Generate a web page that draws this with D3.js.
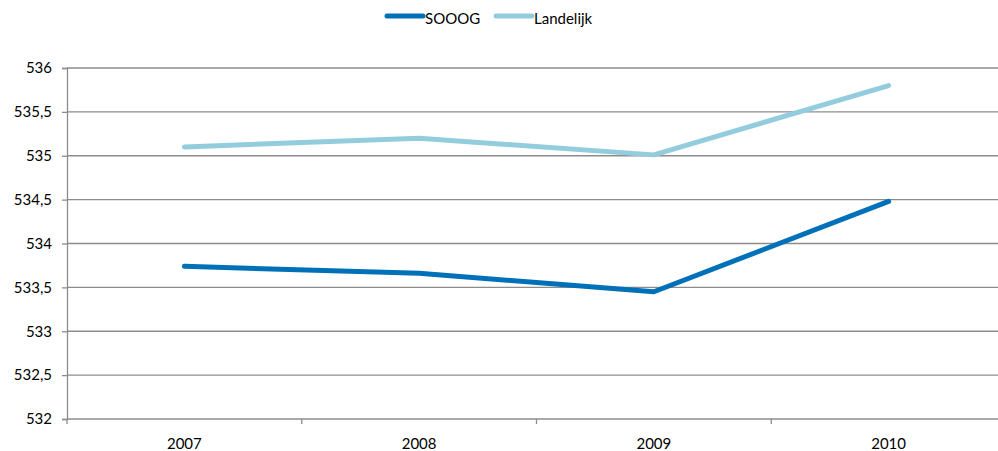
<!DOCTYPE html>
<html>
<head>
<meta charset="utf-8">
<script src="https://cdn.jsdelivr.net/npm/d3@7"></script>
<style>
  html, body { margin: 0; padding: 0; background: #fff; overflow: hidden; }
  svg { display: block; }
  text { font-family: Lato, "Open Sans", sans-serif; fill: #000; }
</style>
</head>
<body>
<div id="chart"></div>
<script>
const years = ["2007", "2008", "2009", "2010"];
const sooogValues = [533.74, 533.66, 533.45, 534.48];
const landelijkValues = [535.1, 535.2, 535.01, 535.8];
const yTicks = [532, 532.5, 533, 533.5, 534, 534.5, 535, 535.5, 536];
const seriesNames = ["SOOOG", "Landelijk"];
const seriesColors = ["#0070b9", "#93cddd"];

const series = [
  { name: seriesNames[0], values: sooogValues, color: seriesColors[0] },
  { name: seriesNames[1], values: landelijkValues, color: seriesColors[1] }
];

const W = 998, H = 451;
const plot = { left: 67, right: 1006, top: 68, bottom: 419 };
const fontSize = 15;

const svg = d3.select("#chart").append("svg")
  .attr("width", W).attr("height", H);

const x = d3.scaleBand().domain(years).range([plot.left, plot.right]);
const y = d3.scaleLinear().domain([532, 536]).range([plot.bottom, plot.top]);

const fmt = v => String(v).replace(".", ",");
const gridColor = "#8c8c8c";

// horizontal gridlines
svg.append("g").selectAll("line").data(yTicks.slice(1)).join("line")
  .attr("x1", plot.left).attr("x2", plot.right)
  .attr("y1", d => y(d)).attr("y2", d => y(d))
  .attr("stroke", gridColor).attr("stroke-width", 1.3);

// y axis
const yAxis = svg.append("g").attr("transform", `translate(${plot.left},0)`)
  .call(d3.axisLeft(y).tickValues(yTicks).tickFormat(fmt).tickSize(5).tickPadding(10));
yAxis.select(".domain").attr("stroke", gridColor).attr("stroke-width", 1.3);
yAxis.selectAll(".tick line").attr("stroke", gridColor).attr("stroke-width", 1.3);
yAxis.selectAll("text").attr("font-size", fontSize).attr("font-family", "Lato, 'Open Sans', sans-serif").attr("fill", "#000");

// x axis with ticks between categories
const xAxis = svg.append("g").attr("transform", `translate(0,${plot.bottom})`);
xAxis.append("line").attr("x1", plot.left).attr("x2", plot.right)
  .attr("stroke", gridColor).attr("stroke-width", 1.3);
const boundaries = years.map(d => x(d)).concat([x(years[years.length - 1]) + x.bandwidth()]);
xAxis.selectAll(".xt").data(boundaries).join("line").attr("class", "xt")
  .attr("x1", d => d).attr("x2", d => d).attr("y1", 0).attr("y2", 5)
  .attr("stroke", gridColor).attr("stroke-width", 1.3);
xAxis.selectAll(".xl").data(years).join("text").attr("class", "xl")
  .attr("x", d => x(d) + x.bandwidth() / 2).attr("y", 30)
  .attr("text-anchor", "middle").attr("font-size", fontSize).text(d => d);

// lines
const line = d3.line()
  .x((d, i) => x(years[i]) + x.bandwidth() / 2)
  .y(d => y(d));

svg.append("g").selectAll("path").data(series).join("path")
  .attr("d", d => line(d.values))
  .attr("fill", "none")
  .attr("stroke", d => d.color)
  .attr("stroke-width", 5)
  .attr("stroke-linejoin", "round")
  .attr("stroke-linecap", "round");

// legend
const legendPos = [387, 496];
const legend = svg.append("g").selectAll("g").data(series).join("g")
  .attr("transform", (d, i) => `translate(${legendPos[i]},16)`);
legend.append("line").attr("x1", 0).attr("x2", 36).attr("y1", 0).attr("y2", 0)
  .attr("stroke", d => d.color).attr("stroke-width", 5).attr("stroke-linecap", "round");
legend.append("text").attr("x", 38).attr("y", 8).attr("font-size", fontSize).text(d => d.name);
</script>
</body>
</html>
